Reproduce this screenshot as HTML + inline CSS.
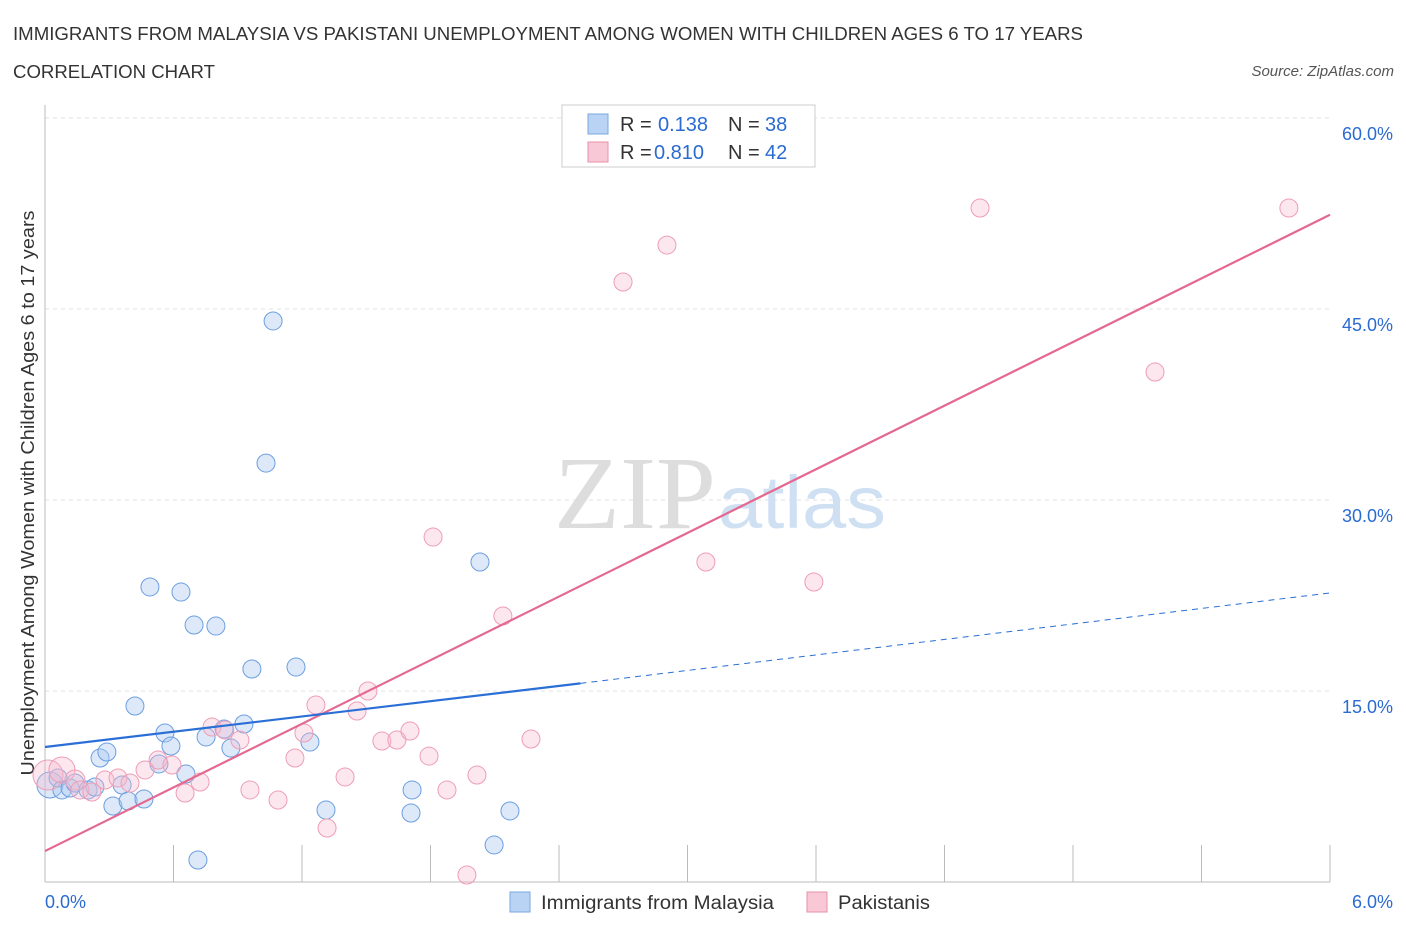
<!DOCTYPE html>
<html><head><meta charset="utf-8"><style>
body{margin:0;background:#fff;font-family:"Liberation Sans",sans-serif}
</style></head><body>
<svg width="1406" height="930" font-family="Liberation Sans, sans-serif">
<text x="13" y="40" font-size="18" fill="#333" textLength="1070" lengthAdjust="spacingAndGlyphs">IMMIGRANTS FROM MALAYSIA VS PAKISTANI UNEMPLOYMENT AMONG WOMEN WITH CHILDREN AGES 6 TO 17 YEARS</text>
<text x="13" y="78" font-size="18" fill="#333" textLength="202" lengthAdjust="spacingAndGlyphs">CORRELATION CHART</text>
<text x="1394" y="76" font-size="15" fill="#555" font-style="italic" text-anchor="end">Source: ZipAtlas.com</text>
<text x="34" y="493" transform="rotate(-90 34 493)" font-size="18" fill="#333" text-anchor="middle" textLength="565" lengthAdjust="spacingAndGlyphs">Unemployment Among Women with Children Ages 6 to 17 years</text>
<g id="grid"></g>
<text x="716" y="528" font-size="104" fill="#ddd" font-family="Liberation Serif, serif" text-anchor="end" textLength="162" lengthAdjust="spacingAndGlyphs">ZIP</text>
<text x="718" y="528" font-size="74" fill="#cfe0f3" textLength="168" lengthAdjust="spacingAndGlyphs">atlas</text>
<g id="marks"></g>
<g>
<rect x="562" y="105" width="253" height="62" fill="#fff" stroke="#ccc"/>
<rect x="588" y="114" width="20" height="20" fill="#b9d3f5" stroke="#7aa7e0"/>
<text x="620" y="131" font-size="20" fill="#333">R =</text>
<text x="658" y="131" font-size="20" fill="#2a6bd1">0.138</text>
<text x="728" y="131" font-size="20" fill="#333">N =</text>
<text x="765" y="131" font-size="20" fill="#2a6bd1">38</text>
<rect x="588" y="142" width="20" height="20" fill="#f8c8d6" stroke="#e88fab"/>
<text x="620" y="159" font-size="20" fill="#333">R =</text>
<text x="654" y="159" font-size="20" fill="#2a6bd1">0.810</text>
<text x="728" y="159" font-size="20" fill="#333">N =</text>
<text x="765" y="159" font-size="20" fill="#2a6bd1">42</text>
</g>
<rect x="510" y="892" width="20" height="20" fill="#b9d3f5" stroke="#7aa7e0"/>
<text x="541" y="909" font-size="19" fill="#333" textLength="233" lengthAdjust="spacingAndGlyphs">Immigrants from Malaysia</text>
<rect x="807" y="892" width="20" height="20" fill="#f8c8d6" stroke="#e88fab"/>
<text x="838" y="909" font-size="19" fill="#333" textLength="92" lengthAdjust="spacingAndGlyphs">Pakistanis</text>
<text x="45" y="908" font-size="18" fill="#2a6bd1">0.0%</text>
<text x="1393" y="908" font-size="18" fill="#2a6bd1" text-anchor="end">6.0%</text>
</svg>
<script>
const yTicks=[15,30,45,60];
const yTickLabels=["15.0%","30.0%","45.0%","60.0%"];
const xTicks=[0,0.6,1.2,1.8,2.4,3.0,3.6,4.2,4.8,5.4,6.0];
const blueX=[0.023,0.061,0.079,0.117,0.140,0.201,0.233,0.257,0.289,0.317,0.360,0.388,0.420,0.462,0.490,0.532,0.560,0.588,0.635,0.658,0.696,0.714,0.752,0.798,0.836,0.868,0.929,0.966,1.032,1.065,1.172,1.237,1.312,1.714,1.709,2.031,2.097,2.171];
const blueY=[7.62,8.17,7.23,7.38,7.77,7.23,7.46,9.74,10.21,5.97,7.62,6.36,13.82,6.52,23.17,9.27,11.70,10.68,22.77,8.48,20.18,1.73,11.39,20.10,12.02,10.52,12.41,16.73,32.90,44.06,16.88,10.99,5.65,7.23,5.42,25.13,2.91,5.58];
const pinkX=[0.014,0.079,0.140,0.163,0.219,0.280,0.341,0.397,0.467,0.528,0.593,0.654,0.724,0.780,0.840,0.910,0.957,1.088,1.167,1.209,1.265,1.317,1.401,1.457,1.508,1.573,1.643,1.704,1.793,1.812,1.877,1.970,2.017,2.138,2.269,2.699,2.904,3.086,3.590,4.366,5.183,5.808];
const pinkY=[8.40,8.80,8.01,7.23,7.07,8.01,8.17,7.77,8.80,9.58,9.19,6.99,7.85,12.17,11.94,11.15,7.23,6.44,9.74,11.70,13.90,4.24,8.25,13.43,15.00,11.07,11.15,11.86,9.89,27.09,7.23,0.55,8.40,20.89,11.23,47.12,50.02,25.13,23.56,52.93,40.05,52.93];
const blueSize=[13,9,9,9,9,9,9,9,9,9,9,9,9,9,9,9,9,9,9,9,9,9,9,9,9,9,9,9,9,9,9,9,9,9,9,9,9,9];
const pinkSize=[15,13,10,9,9,9,9,9,9,9,9,9,9,9,9,9,9,9,9,9,9,9,9,9,9,9,9,9,9,9,9,9,9,9,9,9,9,9,9,9,9,9];
const pinkTrend=[2.43,52.4];
const blueTrend=[10.6,15.6,22.7];
const blueSolidEnd=2.5;
const sx=v=>45+v/6*1285;
const sy=v=>882-v/15*191;
const NS="http://www.w3.org/2000/svg";
function mk(tag,at,parent){const e=document.createElementNS(NS,tag);for(const k in at)e.setAttribute(k,at[k]);parent.appendChild(e);return e;}
const grid=document.getElementById('grid'),marks=document.getElementById('marks');
yTicks.forEach((t,i)=>{
 const l=mk('line',{x1:45,x2:1330,y1:sy(t),y2:sy(t),stroke:'#e2e2e2','stroke-dasharray':'4 4'},grid);
 
 
 const tx=mk('text',{x:1393,y:sy(t)+22,'font-size':18,fill:'#2a6bd1','text-anchor':'end'},grid);
 tx.textContent=yTickLabels[i];
 
 
});
const ax=mk('line',{x1:45,x2:45,y1:105,y2:882,stroke:'#bbb'},grid);


const bx=mk('line',{x1:45,x2:1330,y1:882,y2:882,stroke:'#bbb'},grid);


xTicks.forEach(t=>{
 const l=mk('line',{x1:sx(t),x2:sx(t),y1:845,y2:882,stroke:'#bbb'},grid);
 
 
});
blueX.forEach((x,i)=>{
 const c=mk('circle',{cx:sx(x),cy:sy(blueY[i]),r:blueSize[i],fill:'rgba(170,200,240,0.4)',stroke:'#6b9ee0','stroke-width':1},marks);
 
 
});
pinkX.forEach((x,i)=>{
 const c=mk('circle',{cx:sx(x),cy:sy(pinkY[i]),r:pinkSize[i],fill:'rgba(245,185,205,0.35)',stroke:'#ee9db6','stroke-width':1},marks);
 
 
});
const pt=mk('line',{x1:sx(0),y1:sy(pinkTrend[0]),x2:sx(6),y2:sy(pinkTrend[1]),stroke:'#e4688f','stroke-width':2.2},marks);


const bt=mk('line',{x1:sx(0),y1:sy(blueTrend[0]),x2:sx(blueSolidEnd),y2:sy(blueTrend[1]),stroke:'#2a6fd6','stroke-width':2.2},marks);


const bd=mk('line',{x1:sx(blueSolidEnd),y1:sy(blueTrend[1]),x2:sx(6),y2:sy(blueTrend[2]),stroke:'#2a6fd6','stroke-width':1,'stroke-dasharray':'6 5'},marks);


</script>
</body></html>
